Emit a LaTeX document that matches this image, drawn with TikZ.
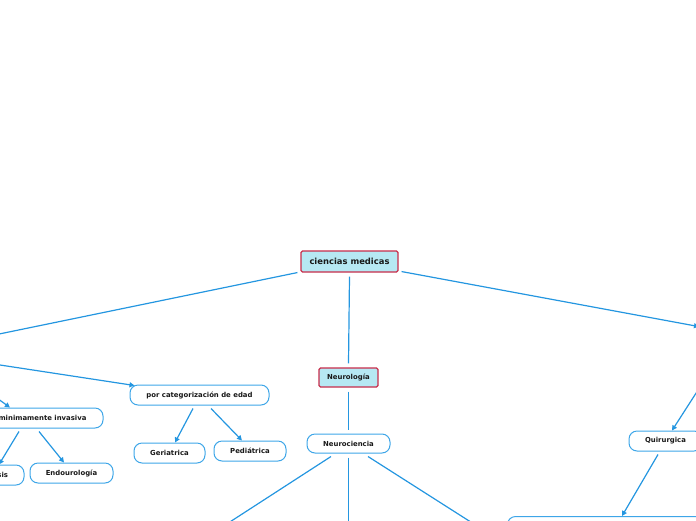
\documentclass[tikz,border=0pt]{standalone}
\usepackage{fontspec}
\setmainfont{DejaVu Sans}
\usepackage{tikz}
\usetikzlibrary{arrows.meta,calc}
\definecolor{linkblue}{RGB}{36,150,224}
\definecolor{pillblue}{RGB}{62,166,232}
\definecolor{mainfill}{RGB}{182,232,243}
\definecolor{mainline}{RGB}{200,45,75}
\definecolor{ink}{RGB}{25,25,25}

\begin{document}
\begin{tikzpicture}[x=1pt,y=-1pt,>={Triangle[length=5pt,width=5pt]},
  main/.style={draw=mainline,fill=mainfill,line width=1.1pt,rounded corners=1.5pt,inner sep=0pt,
    font=\fontsize{8.4}{10}\selectfont\bfseries,text=ink},
  topic/.style={draw=pillblue,fill=white,line width=1pt,rounded corners=8pt,inner sep=0pt,
    font=\fontsize{6.9}{8}\selectfont\bfseries,text=ink},
  link/.style={draw=linkblue,line width=1.2pt}]
\useasboundingbox (0,0) rectangle (696,520);
\clip (0,0) rectangle (696,520);
% main topics
\node[main,minimum width=97pt,minimum height=21pt] (cm) at (349.5,261.5) {ciencias medicas};
\node[main,font=\fontsize{6.9}{8}\selectfont\bfseries,minimum width=59pt,minimum height=19pt] (neuro) at (348.5,377.5) {Neurología};
\node[topic,minimum width=83pt,minimum height=19pt] (nc) at (348.5,443.5) {Neurociencia};
% left branch
\node[topic,minimum width=139pt,minimum height=20pt] (porcat) at (199.5,395) {por categorización de edad};
\node[topic,minimum width=71pt,minimum height=20pt] (geri) at (169.5,453) {Geriatrica};
\node[topic,minimum width=72pt,minimum height=20pt] (pedi) at (250,451) {Pediátrica};
\node[topic,minimum width=121pt,minimum height=20pt] (mininv) at (42.5,418) {minimamente invasiva};
\node[topic,text width=44pt,align=right,inner xsep=16pt,minimum height=20pt] (sis) at (-14,475) {sis};
\node[topic,minimum width=83pt,minimum height=20pt] (endo) at (71.5,473) {Endourología};
% right branch
\node[topic,minimum width=73pt,minimum height=20pt] (quir) at (665.5,441) {Quirurgica};
\node[topic,minimum width=260pt,minimum height=30pt,anchor=north west] (abajo) at (507,516) {};
% ends outside the page
\coordinate (izqA) at (-30,340);
\coordinate (izqB) at (-15,362.7);
\coordinate (izqC) at (-15,389.5);
\coordinate (derA) at (699,326.6);
\coordinate (derB) at (709,373);
\coordinate (bajoA) at (202,540);
\coordinate (bajoB) at (348.5,540);
\coordinate (bajoC) at (499,540);
% connectors
\draw[link] ($(cm.south west)+(-3,0)$) -- (izqA);
\draw[link] ($(cm.south)+(0,4)$) -- ($(neuro.north)+(0,-4)$);
\draw[link,->] ($(cm.south east)+(3,-1)$) -- (derA);
\draw[link] ($(neuro.south)+(0,4)$) -- ($(nc.north)+(0,-4)$);
\draw[link,->] (izqB) -- ($(porcat.north west)+(5,1)$);
\draw[link,->] (izqC) -- ($(mininv.north)+(-32.5,0)$);
\draw[link,->] ($(porcat.south)+(-6.5,3)$) -- ($(geri.north)+(5.5,0)$);
\draw[link,->] ($(porcat.south)+(11.5,3)$) -- ($(pedi.north)+(-8,0)$);
\draw[link,->] ($(mininv.south)+(-23.5,3)$) -- ($(sis.north)+(13,0)$);
\draw[link,->] ($(mininv.south)+(-3.5,3)$) -- ($(endo.north)+(-7.5,0)$);
\draw[link] ($(nc.south)+(-17.5,3)$) -- (bajoA);
\draw[link] ($(nc.south)+(0,4)$) -- (bajoB);
\draw[link] ($(nc.south)+(19.5,3)$) -- (bajoC);
\draw[link,->] (derB) -- ($(quir.north)+(6.5,0)$);
\draw[link,->] ($(quir.south)+(-7.5,3)$) -- ($(abajo.north west)+(115,0)$);
\end{tikzpicture}
\end{document}
